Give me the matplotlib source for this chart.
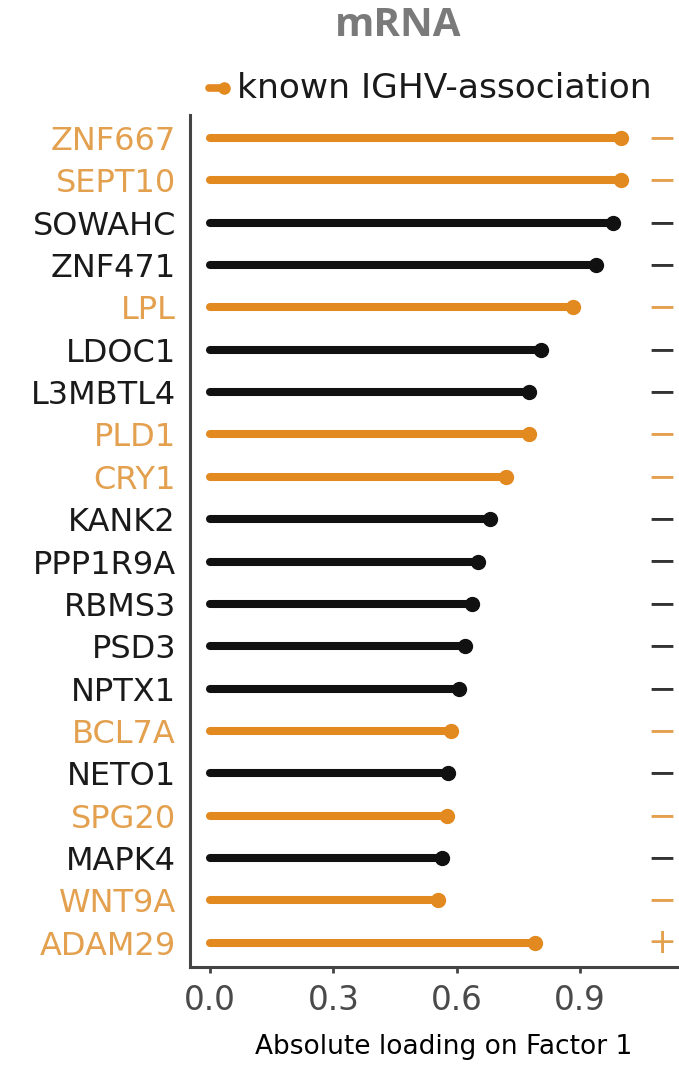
import matplotlib
matplotlib.use("Agg")
import matplotlib.pyplot as plt
from matplotlib.lines import Line2D

genes = ["ZNF667", "SEPT10", "SOWAHC", "ZNF471", "LPL", "LDOC1", "L3MBTL4",
         "PLD1", "CRY1", "KANK2", "PPP1R9A", "RBMS3", "PSD3", "NPTX1",
         "BCL7A", "NETO1", "SPG20", "MAPK4", "WNT9A", "ADAM29"]
loadings = [1.00, 1.00, 0.98, 0.94, 0.884, 0.805, 0.776, 0.776, 0.72, 0.68,
            0.652, 0.637, 0.62, 0.606, 0.586, 0.579, 0.577, 0.564, 0.555, 0.79]
known_ighv = [True, True, False, False, True, False, False, True, True, False,
              False, False, False, False, True, False, True, False, True, True]
signs = ["−"] * 19 + ["+"]
xticks = [0.0, 0.3, 0.6, 0.9]

ORANGE = "#E2891F"
ORANGE_TXT = "#E3A04E"
BLACK = "#111111"

plt.rcParams["font.family"] = ["DejaVu Sans"]

fig = plt.figure(figsize=(6.79, 10.66), dpi=100)
ax = fig.add_axes([190 / 679, 1 - 967 / 1066, 489 / 679, (967 - 115) / 1066])

ypos = list(range(len(genes)))
for y, v, k in zip(ypos, loadings, known_ighv):
    c = ORANGE if k else BLACK
    ax.plot([0, v], [y, y], color=c, lw=5.8, solid_capstyle="round", zorder=2)
    ax.plot([v], [y], "o", color=c, ms=10, zorder=3)

for y, s, k in zip(ypos, signs, known_ighv):
    ax.text(1.10, y, s, color=ORANGE_TXT if k else "#333333", fontsize=25,
            ha="center", va="center")

ax.set_xlim(-0.049, 1.141)
ax.set_ylim(19.57, -0.54)

ax.set_yticks(ypos)
ax.set_yticklabels(genes, fontsize=23)
for lab, k in zip(ax.get_yticklabels(), known_ighv):
    lab.set_color(ORANGE_TXT if k else "#1a1a1a")
ax.tick_params(axis="y", length=0, pad=10)

ax.set_xticks(xticks)
ax.set_xticklabels([f"{t:.1f}" for t in xticks], fontsize=23.5, color="#4a4a4a")
ax.tick_params(axis="x", length=4, width=2, color="#444444", pad=8)

for side in ("top", "right"):
    ax.spines[side].set_visible(False)
for side in ("left", "bottom"):
    ax.spines[side].set_color("#444444")
    ax.spines[side].set_linewidth(2.2)

# x-axis caption
fig.text(444 / 679, 1 - 1047 / 1066, "Absolute loading on Factor 1",
         fontsize=19, ha="center", va="center", color="black")

# title
fig.text(398 / 679, 1 - 25 / 1066, "mRNA", fontsize=29, fontweight="bold",
         family="Open Sans", color="#7a7a7a", ha="center", va="center")

# legend key
fy = 1 - 88 / 1066
fig.add_artist(Line2D([209 / 679, 226 / 679], [fy, fy], color=ORANGE, lw=5.5,
                      solid_capstyle="round", transform=fig.transFigure))
fig.add_artist(Line2D([224 / 679], [fy], marker="o", color=ORANGE, ms=8,
                      transform=fig.transFigure))
fig.text(237 / 679, fy, "known IGHV-association", fontsize=24.8,
         ha="left", va="center", color="#1a1a1a")

fig.savefig("out.png", dpi=100, facecolor="white")
